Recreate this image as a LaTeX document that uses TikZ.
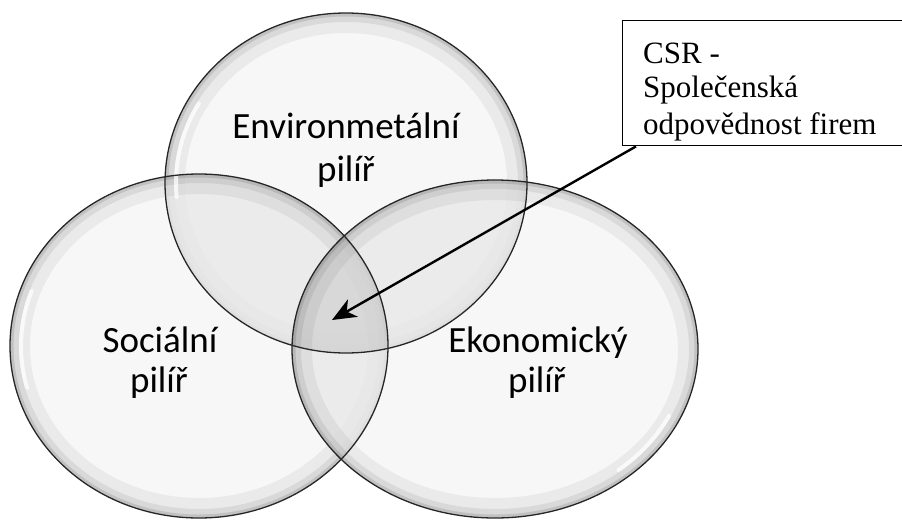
\documentclass[tikz,border=0pt]{standalone}
\usepackage{fontspec}
\setmainfont{Liberation Serif}
\newfontfamily\calib{Carlito}
\usetikzlibrary{arrows.meta}
\def\elEnv{(346,183) ellipse [x radius=181pt, y radius=170pt]}
\def\elSoc{(199,346) ellipse [x radius=189pt, y radius=172pt]}
\def\elEko{(495,349) ellipse [x radius=203pt, y radius=169pt]}
\begin{document}
\begin{tikzpicture}[x=1pt,y=-1pt,
  body/.style={fill=white!96!black, fill opacity=0.8},
  band1/.style={draw=black, draw opacity=0.05, line width=40pt},
  band2/.style={draw=black, draw opacity=0.07, line width=18pt},
  band3/.style={draw=black, draw opacity=0.11, line width=7pt},
  rim/.style={draw=black!85, line width=1.3pt},
  gloss/.style={draw=white, line width=4pt, opacity=0.75, line cap=round},
  lab/.style={font=\calib\fontsize{37}{44}\selectfont, inner sep=0pt, anchor=base},
  csrtext/.style={font=\fontsize{31}{35}\selectfont, inner sep=0pt, anchor=base west},
  csrbox/.style={draw=black, line width=1.4pt, fill=white, inner sep=0pt, anchor=north west, minimum width=300pt, minimum height=125pt}]
\useasboundingbox (0,0) rectangle (902,522);
\clip (0,0) rectangle (902,522);
\fill[white] (0,0) rectangle (902,522);
% bubbles
\begin{scope}
  \clip \elEnv;
  \path[body] \elEnv;
  \path[band1] \elEnv; \path[band2] \elEnv; \path[band3] \elEnv;
\end{scope}
\begin{scope}
  \clip \elSoc;
  \path[body] \elSoc;
  \path[band1] \elSoc; \path[band2] \elSoc; \path[band3] \elSoc;
\end{scope}
\begin{scope}
  \clip \elEko;
  \path[body] \elEko;
  \path[band1] \elEko; \path[band2] \elEko; \path[band3] \elEko;
\end{scope}
% overlap darkening
\begin{scope}
  \clip \elEnv;
  \fill[black, opacity=0.04] \elSoc;
  \fill[black, opacity=0.04] \elEko;
\end{scope}
\begin{scope}
  \clip \elSoc;
  \fill[black, opacity=0.04] \elEko;
\end{scope}
% gloss highlights
\draw[gloss] ([shift={(150:170pt and 159pt)}]346,183) arc[start angle=150, end angle=185, x radius=170pt, y radius=159pt];
\draw[gloss] ([shift={(160:178pt and 161pt)}]199,346) arc[start angle=160, end angle=195, x radius=178pt, y radius=161pt];
\draw[gloss] ([shift={(-25:192pt and 158pt)}]495,349) arc[start angle=-25, end angle=-50, x radius=192pt, y radius=158pt];
% rims
\draw[rim] \elEnv;
\draw[rim] \elSoc;
\draw[rim] \elEko;
% labels
\node[lab] (env1) at (346,138) {Environmetální};
\node[lab] (env2) at (346,181) {pilíř};
\node[lab] (soc1) at (160,352) {Sociální};
\node[lab] (soc2) at (159,392) {pilíř};
\node[lab] (eko1) at (538,352) {Ekonomický};
\node[lab] (eko2) at (537,392) {pilíř};
% CSR box
\node[csrbox] (box) at (622,20) {};
\node[csrtext] (csr1) at (643,63) {CSR -};
\node[csrtext] (csr2) at (643,97) {Společenská};
\node[csrtext] (csr3) at (643,134) {odpovědnost firem};
\coordinate (tip) at (332,320);
\draw[line width=2.4pt, -{Stealth[length=24pt, width=20pt, inset=7pt]}] (box.south west) ++(14,0) -- (tip);
\end{tikzpicture}
\end{document}
